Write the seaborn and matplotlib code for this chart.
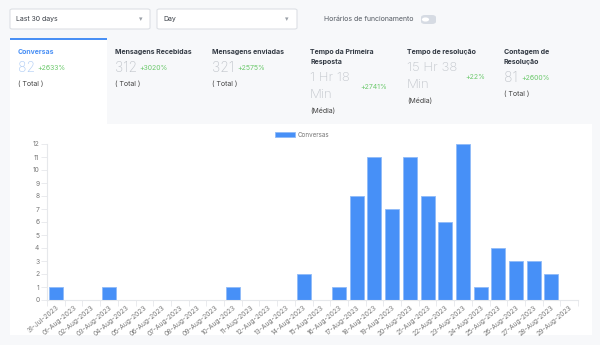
import matplotlib
matplotlib.use("Agg")
import matplotlib.pyplot as plt
from matplotlib.patches import FancyBboxPatch, Rectangle
import seaborn as sns
import pandas as pd

dates = ["31-Jul-2023"] + [f"{d:02d}-Aug-2023" for d in range(1, 30)]
conversas = [1, 0, 0, 1, 0, 0, 0, 0, 0, 0, 1, 0, 0, 0, 2, 0, 1, 8, 11, 7,
             11, 8, 6, 12, 1, 4, 3, 3, 2, 0]
y_ticks = list(range(0, 13))

sns.set_theme(style="white")
plt.rcParams['font.family'] = ['Inter', 'DejaVu Sans']

W, H = 600, 345
fig = plt.figure(figsize=(6, 3.45), dpi=100)
fig.patch.set_facecolor("#f7f8fa")

def fx(x):
    return x / W

def fy(y):
    return 1 - y / H

def rect(x0, y0, x1, y1, fc, ec="none", lw=0.8, rounded=False, z=-5):
    if rounded:
        p = FancyBboxPatch((fx(x0), fy(y1)), fx(x1 - x0), (y1 - y0) / H,
                           boxstyle="round,pad=0,rounding_size=0.004",
                           transform=fig.transFigure, fc=fc, ec=ec, lw=lw, zorder=z)
    else:
        p = Rectangle((fx(x0), fy(y1)), fx(x1 - x0), (y1 - y0) / H,
                      transform=fig.transFigure, fc=fc, ec=ec, lw=lw, zorder=z)
    fig.patches.append(p)

def txt(x, y, s, size=5, color="#333a44", weight="normal", **kw):
    fig.text(fx(x), fy(y), s, fontsize=size, color=color, fontweight=weight,
             va="center", ha=kw.pop("ha", "left"), **kw)

# dropdowns
rect(10, 9, 150, 29, "white", "#dde0e5", rounded=True)
rect(157, 9, 297, 29, "white", "#dde0e5", rounded=True)
txt(16, 19, "Last 30 days", 5, "#3a3f47")
txt(163, 19, "Day", 5, "#3a3f47")
txt(140.5, 19.5, "▾", 5, "#9aa0a8", ha="center")
txt(287, 19.5, "▾", 5, "#9aa0a8", ha="center")
txt(324, 19, "Horários de funcionamento", 5, "#555b63")
# toggle
fig.patches.append(FancyBboxPatch((fx(421), fy(24)), fx(15), 9 / H,
                                  boxstyle="round,pad=0,rounding_size=0.007",
                                  transform=fig.transFigure, fc="#d6dbe3", ec="none",
                                  zorder=-4))
fig.patches.append(plt.Circle((fx(425.5), fy(19.5)), 3.6 / W, transform=fig.transFigure,
                              fc="white", ec="none", zorder=-3))

# active tab
rect(10, 38, 107, 125, "white")
rect(10, 37.5, 107, 39.5, "#4a90f5")

GREEN = "#6cc96c"
GRAY_BIG = "#c2c6cc"
txt(18, 52, "Conversas", 5, "#4a90f5", "bold")
txt(18, 68, "82", 10, "#b0cdf5", "light")
txt(37, 68, "+2633%", 5, GREEN)
txt(18, 84, "( Total )", 5, "#444")

txt(115, 52, "Mensagens Recebidas", 5, "#333a44", "bold")
txt(115, 68, "312", 10, GRAY_BIG, "light")
txt(139, 68, "+3020%", 5, GREEN)
txt(115, 84, "( Total )", 5, "#444")

txt(212, 52, "Mensagens enviadas", 5, "#333a44", "bold")
txt(212, 68, "321", 10, GRAY_BIG, "light")
txt(237, 68, "+2575%", 5, GREEN)
txt(212, 84, "( Total )", 5, "#444")

txt(310, 52, "Tempo da Primeira", 5, "#333a44", "bold")
txt(310, 62, "Resposta", 5, "#333a44", "bold")
txt(310, 78, "1 Hr 18", 9.5, GRAY_BIG, "light")
txt(310, 95, "Min", 9.5, GRAY_BIG, "light")
txt(360, 87, "+2741%", 5, GREEN)
txt(310, 111, "(Média)", 5, "#444")

txt(407, 52, "Tempo de resolução", 5, "#333a44", "bold")
txt(407, 68, "15 Hr 38", 9.5, GRAY_BIG, "light")
txt(407, 85, "Min", 9.5, GRAY_BIG, "light")
txt(465, 77, "+22%", 5, GREEN)
txt(407, 101, "(Média)", 5, "#444")

txt(504, 52, "Contagem de", 5, "#333a44", "bold")
txt(504, 62, "Resolução", 5, "#333a44", "bold")
txt(504, 78, "81", 10, GRAY_BIG, "light")
txt(521, 78, "+2600%", 5, GREEN)
txt(504, 94, "( Total )", 5, "#444")

# chart card
rect(10, 124, 592, 335, "white")

# axes
x0, x1, ytop, ybot = 47, 578, 144, 300
ax = fig.add_axes([fx(x0), fy(ybot), fx(x1 - x0), (ybot - ytop) / H], zorder=1)
ax.set_facecolor("none")
df = pd.DataFrame({"date": dates, "Conversas": conversas})
sns.barplot(data=df, x="date", y="Conversas", ax=ax, color="#4790f7",
            saturation=1, width=0.79, edgecolor="#8fbaf8", linewidth=0.6,
            label="Conversas")
ax.set_xlim(-0.5, len(dates) - 0.5)
ax.set_ylim(0, 12)
ax.set_yticks(y_ticks)
ax.set_yticklabels([str(v) for v in y_ticks])
ax.set_xlabel("")
ax.set_ylabel("")
for s in ["top", "right"]:
    ax.spines[s].set_visible(False)
for s in ["left", "bottom"]:
    ax.spines[s].set_color("#e6e8eb")
    ax.spines[s].set_linewidth(0.8)
ax.tick_params(axis="y", length=4, width=0.6, color="#e6e8eb", labelsize=4.8,
               labelcolor="#777", pad=1.5, left=True)
ax.set_xticks(range(len(dates)))
ax.set_xticklabels(dates, rotation=40, ha="right", rotation_mode="anchor")
ax.tick_params(axis="x", length=0, labelsize=4.8, labelcolor="#777", pad=3)
ax.set_xticks([i - 0.5 for i in range(len(dates) + 1)], minor=True)
ax.tick_params(axis="x", which="minor", length=4, width=0.6, color="#e6e8eb", bottom=True)
ax.grid(False)
leg = ax.legend(loc="upper center", bbox_to_anchor=(0.48, 1.115), frameon=False,
                fontsize=4.5, handlelength=3.3, handleheight=0.9, handletextpad=0.4,
                labelcolor="#777")

fig.savefig("out.png", dpi=100, facecolor=fig.get_facecolor())
